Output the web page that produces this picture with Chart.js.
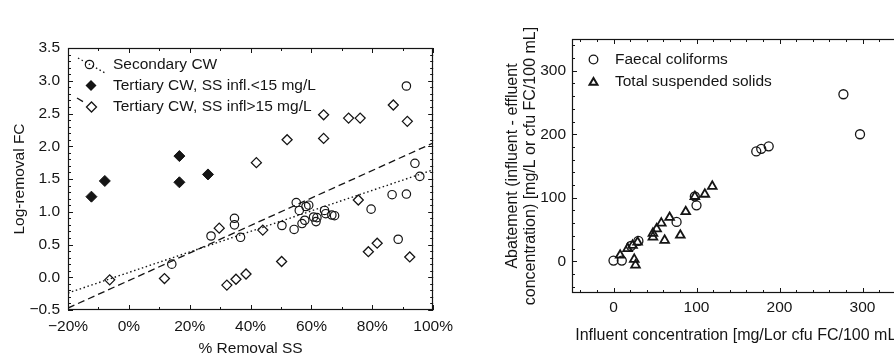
<!DOCTYPE html>
<html><head><meta charset="utf-8">
<script src="https://cdn.jsdelivr.net/npm/chart.js@4.4.1/dist/chart.umd.min.js"></script>
<style>
html,body{margin:0;padding:0;background:#fff;width:894px;height:356px;overflow:hidden;position:relative;}
#c1{position:absolute;left:0;top:0;}
#c2{position:absolute;left:460px;top:0;}
</style></head><body>
<canvas id="c1" width="460" height="356"></canvas>
<canvas id="c2" width="460" height="356"></canvas>
<script>
// ---------- Left panel data: [% removal SS, log-removal FC] ----------
const secondaryCW = [[14.1,0.20],[27,0.63],[34.7,0.90],[34.7,0.80],[36.7,0.61],[50.3,0.79],[54.3,0.73],[55,1.14],[56,1.02],[56.9,0.82],[57.8,0.87],[58.2,1.08],[59.1,1.10],[60.7,0.92],[61.5,0.85],[61.8,0.91],[64.3,1.02],[64.7,0.97],[66.7,0.95],[67.6,0.94],[79.6,1.04],[86.5,1.26],[91.2,1.27],[88.5,0.58],[91.2,2.92],[94,1.74],[95.6,1.54]];
const tertiaryLow = [[-12.3,1.23],[-7.9,1.47],[16.6,1.85],[16.6,1.45],[26,1.57]];
const tertiaryHigh = [[-6.3,-0.04],[11.7,-0.02],[29.7,0.75],[32.2,-0.12],[35.2,-0.03],[38.5,0.05],[44,0.72],[50.2,0.24],[75.4,1.18],[78.7,0.39],[81.6,0.52],[92.3,0.31],[41.9,1.75],[52,2.10],[64,2.48],[64,2.12],[72.2,2.43],[76,2.43],[86.9,2.63],[91.5,2.38]];
const secondaryFit = [[-20,-0.24],[100,1.64]];
const tertiaryHighFit = [[-20,-0.47],[100,2.05]];
const leftLabels = ['Secondary CW','Tertiary CW, SS infl.<15 mg/L','Tertiary CW, SS infl>15 mg/L'];
const leftXTicks = [-20,0,20,40,60,80,100];
const leftXTickLabels = ['\u221220%','0%','20%','40%','60%','80%','100%'];
const leftYTicks = [-0.5,0,0.5,1,1.5,2,2.5,3,3.5];
const leftYTickLabels = ['\u22120.5','0.0','0.5','1.0','1.5','2.0','2.5','3.0','3.5'];

// ---------- Right panel data: [influent, abatement] ----------
const faecalColiforms = [[0,1],[10,1],[21,24],[30,32],[76,62],[98,102],[100,88],[172,173],[178,177],[187,181],[277,263],[297,200]];
const suspendedSolids = [[8,9.5],[17,20],[23,25],[29,30],[25,3],[26.5,-6],[47.5,44],[47.5,38],[52,51],[57.6,60],[61.6,33],[67.6,69],[80.5,41],[87,78],[98,102],[110,105.5],[119,118]];
const rightLabels = ['Faecal coliforms','Total suspended solids'];
const rightXTicks = [0,100,200,300];
const rightXTickLabels = ['0','100','200','300'];
const rightYTicks = [0,100,200,300];
const rightYTickLabels = ['0','100','200','300'];

const toXY = arr => arr.map(p => ({x:p[0], y:p[1]}));
const FONT = "'Liberation Sans', Arial, Helvetica, sans-serif";
const INK = '#151515';

const framePlugin = {
  id: 'frame',
  afterDatasetsDraw(chart, args, o) {
    const {ctx, chartArea: a} = chart;
    const sx = chart.scales.x, sy = chart.scales.y;
    ctx.save();
    ctx.strokeStyle = INK; ctx.lineWidth = 1.2;
    ctx.strokeRect(Math.round(a.left)+0.5, Math.round(a.top)+0.5, Math.round(a.right-a.left)-1, Math.round(a.bottom-a.top)-1);
    ctx.lineWidth = 1;
    const isMajor = (v, m) => Math.abs(v/m - Math.round(v/m)) < 1e-6;
    ctx.beginPath();
    for (let i = 0; ; i++) {
      const v = o.xStart + i*o.xMinor; if (v > sx.max + 1e-9) break;
      if (v < sx.min - 1e-9) continue;
      const len = isMajor(v, o.xMajor) ? 5 : 3;
      const px = Math.round(sx.getPixelForValue(v)) + 0.5;
      ctx.moveTo(px, a.bottom); ctx.lineTo(px, a.bottom - len);
      ctx.moveTo(px, a.top); ctx.lineTo(px, a.top + len);
    }
    for (let i = 0; ; i++) {
      const v = o.yStart + i*o.yMinor; if (v > sy.max + 1e-9) break;
      if (v < sy.min - 1e-9) continue;
      const len = isMajor(v, o.yMajor) ? 5 : 3;
      const py = Math.round(sy.getPixelForValue(v)) + 0.5;
      ctx.moveTo(a.left, py); ctx.lineTo(a.left + len, py);
      ctx.moveTo(a.right, py); ctx.lineTo(a.right - len, py);
    }
    ctx.stroke();
    ctx.restore();
  }
};

function drawMarker(ctx, style, x, y, r, fill, lw) {
  ctx.save();
  ctx.lineWidth = lw; ctx.strokeStyle = INK; ctx.fillStyle = INK;
  ctx.beginPath();
  if (style === 'circle') ctx.arc(x, y, r, 0, Math.PI*2);
  else if (style === 'rectRot') { ctx.moveTo(x-r,y); ctx.lineTo(x,y-r); ctx.lineTo(x+r,y); ctx.lineTo(x,y+r); ctx.closePath(); }
  else if (style === 'triangle') { ctx.moveTo(x, y-r); ctx.lineTo(x+r*0.866, y+r*0.5); ctx.lineTo(x-r*0.866, y+r*0.5); ctx.closePath(); }
  if (fill) ctx.fill(); else ctx.stroke();
  ctx.restore();
}

const legendPlugin = {
  id: 'customLegend',
  afterDraw(chart, args, o) {
    const ctx = chart.ctx;
    ctx.save();
    o.items.forEach(it => {
      if (it.line) {
        ctx.save();
        ctx.strokeStyle = INK; ctx.lineWidth = 1.3; ctx.setLineDash(it.line.dash);
        ctx.beginPath(); ctx.moveTo(it.line.from[0], it.line.from[1]); ctx.lineTo(it.line.to[0], it.line.to[1]); ctx.stroke();
        ctx.restore();
      }
      drawMarker(ctx, it.marker, it.mx, it.my, it.r, it.fill, it.lw);
      ctx.fillStyle = INK; ctx.font = o.font; ctx.textBaseline = 'middle'; ctx.textAlign = 'left';
      ctx.fillText(it.label, it.tx, it.ty);
    });
    ctx.restore();
  }
};

const tickSetter = vals => scale => { scale.ticks = vals.map(v => ({value: v})); };

// ---------- Left chart ----------
new Chart(document.getElementById('c1'), {
  type: 'scatter',
  data: { datasets: [
    { label: leftLabels[0], data: toXY(secondaryCW), pointStyle: 'circle', pointRadius: 4.2, pointBorderWidth: 1.2, borderColor: INK, backgroundColor: 'rgba(0,0,0,0)', order: 1 },
    { label: leftLabels[1], data: toXY(tertiaryLow), pointStyle: 'rectRot', pointRadius: 5.5, pointBorderWidth: 1, borderColor: INK, backgroundColor: INK, order: 1 },
    { label: leftLabels[2], data: toXY(tertiaryHigh), pointStyle: 'rectRot', pointRadius: 5, pointBorderWidth: 1.3, borderColor: INK, backgroundColor: 'rgba(0,0,0,0)', order: 1 },
    { type: 'line', label: 'fit secondary', data: toXY(secondaryFit), borderColor: INK, borderWidth: 1.4, borderDash: [1.5, 2.6], pointRadius: 0, fill: false, order: 5 },
    { type: 'line', label: 'fit tertiary', data: toXY(tertiaryHighFit), borderColor: INK, borderWidth: 1.3, borderDash: [7, 4], pointRadius: 0, fill: false, order: 5 }
  ]},
  options: {
    responsive: false, animation: false, devicePixelRatio: 1,
    layout: { padding: { top: 48, right: 25, left: 0, bottom: 0 } },
    scales: {
      x: { type: 'linear', min: -20, max: 100, position: 'bottom',
        afterBuildTicks: tickSetter(leftXTicks),
        afterFit: s => { s.height = 46; },
        grid: { display: false, drawTicks: false }, border: { display: false },
        ticks: { color: INK, padding: 7, font: { family: FONT, size: 15.5 }, callback: (v, i) => leftXTickLabels[i], maxRotation: 0 },
        title: { display: true, text: '% Removal SS', color: INK, font: { family: FONT, size: 15.5, lineHeight: 1 }, padding: { top: 0, bottom: 0 } } },
      y: { type: 'linear', min: -0.5, max: 3.5,
        afterBuildTicks: tickSetter(leftYTicks),
        afterFit: s => { s.width = 68; },
        grid: { display: false, drawTicks: false }, border: { display: false },
        ticks: { color: INK, padding: 8, font: { family: FONT, size: 15.5 }, callback: (v, i) => leftYTickLabels[i] },
        title: { display: true, text: 'Log-removal FC', color: INK, font: { family: FONT, size: 15.5, lineHeight: 1.2 }, padding: { top: 10, bottom: 0 } } }
    },
    plugins: {
      legend: { display: false }, tooltip: { enabled: false },
      frame: { xStart: -20, xMinor: 10, xMajor: 20, yStart: -0.5, yMinor: 0.1, yMajor: 0.5 },
      customLegend: { font: '15.5px ' + FONT, items: [
        { label: leftLabels[0], marker: 'circle', r: 4.2, fill: false, lw: 1.2, mx: 89.5, my: 64.5, tx: 113, ty: 65, line: { dash: [1.5, 2.6], from: [78, 58], to: [106, 73.5] } },
        { label: leftLabels[1], marker: 'rectRot', r: 5.5, fill: true, lw: 1, mx: 91, my: 85.5, tx: 113, ty: 86 },
        { label: leftLabels[2], marker: 'rectRot', r: 5, fill: false, lw: 1.3, mx: 91.5, my: 107, tx: 113, ty: 107, line: { dash: [7, 4], from: [77, 98], to: [86, 103.5] } }
      ]}
    }
  },
  plugins: [framePlugin, legendPlugin]
});

// ---------- Right chart ----------
new Chart(document.getElementById('c2'), {
  type: 'scatter',
  data: { datasets: [
    { label: rightLabels[0], data: toXY(faecalColiforms), pointStyle: 'circle', pointRadius: 4.5, pointBorderWidth: 1.3, borderColor: INK, backgroundColor: 'rgba(0,0,0,0)' },
    { label: rightLabels[1], data: toXY(suspendedSolids), pointStyle: 'triangle', pointRadius: 5, pointBorderWidth: 1.8, borderColor: INK, backgroundColor: 'rgba(0,0,0,0)' }
  ]},
  options: {
    responsive: false, animation: false, devicePixelRatio: 1,
    layout: { padding: { top: 39, right: 16, left: 0, bottom: 0 } },
    scales: {
      x: { type: 'linear', min: -50, max: 350, position: 'bottom',
        afterBuildTicks: tickSetter(rightXTicks),
        afterFit: s => { s.height = 63; },
        grid: { display: false, drawTicks: false }, border: { display: false },
        ticks: { color: INK, padding: 5, font: { family: FONT, size: 15.5 }, callback: (v, i) => rightXTickLabels[i], maxRotation: 0 },
        title: { display: true, text: 'Influent concentration [mg/Lor cfu FC/100 mL]', color: INK, font: { family: FONT, size: 16, lineHeight: 1.2 }, padding: { top: 0, bottom: 11 } } },
      y: { type: 'linear', min: -50, max: 350,
        afterBuildTicks: tickSetter(rightYTicks),
        afterFit: s => { s.width = 112; },
        grid: { display: false, drawTicks: false }, border: { display: false },
        ticks: { color: INK, padding: 6, font: { family: FONT, size: 15.5 }, callback: (v, i) => rightYTickLabels[i] },
        title: { display: true, text: ['Abatement (influent - effluent', 'concentration) [mg/L or cfu FC/100 mL]'], color: INK, font: { family: FONT, size: 16, lineHeight: 1.15 }, padding: { top: 43, bottom: 0 } } }
    },
    plugins: {
      legend: { display: false }, tooltip: { enabled: false },
      frame: { xStart: -40, xMinor: 20, xMajor: 100, yStart: -40, yMinor: 20, yMajor: 100 },
      customLegend: { font: '15.5px ' + FONT, items: [
        { label: rightLabels[0], marker: 'circle', r: 4.3, fill: false, lw: 1.3, mx: 133.5, my: 59.5, tx: 155, ty: 59.5 },
        { label: rightLabels[1], marker: 'triangle', r: 4.6, fill: false, lw: 2, mx: 133.5, my: 82.5, tx: 155, ty: 82 }
      ]}
    }
  },
  plugins: [framePlugin, legendPlugin]
});
</script>
</body></html>
